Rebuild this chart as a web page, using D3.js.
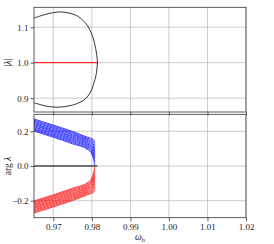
<!DOCTYPE html>
<meta charset="utf-8">
<style>
  body { margin: 0; background: #fff; }
  text { font-family: "Liberation Serif", "DejaVu Serif", serif; fill: #222; }
</style>
<svg width="274" height="244"></svg>
<script src="https://cdn.jsdelivr.net/npm/d3@7"></script>
<script>

// x ticks shared by both panels
var xTicks = [0.97, 0.98, 0.99, 1.00, 1.01, 1.02]
var magTicks = [0.9, 1.0, 1.1]
var argTicks = [-0.2, 0.0, 0.2]

// |lambda| : closed curve, upper branch then lower branch (omega, value)
var magCurve = [
  [0.965, 1.126], [0.968, 1.136], [0.970, 1.141], [0.972, 1.143], [0.974, 1.140],
  [0.976, 1.133], [0.977, 1.126], [0.978, 1.116], [0.979, 1.102], [0.980, 1.080],
  [0.9806, 1.060], [0.9810, 1.040], [0.9813, 1.020], [0.98145, 1.000],
  [0.9813, 0.980], [0.9810, 0.960], [0.9806, 0.945], [0.980, 0.925], [0.979, 0.906],
  [0.978, 0.895], [0.976, 0.884], [0.974, 0.878], [0.972, 0.875], [0.970, 0.875],
  [0.968, 0.878], [0.965, 0.887]
]
// real eigenvalue on the unit circle
var magUnit = [[0.965, 1.0], [0.98145, 1.0]]
var argZero = [[0.965, 0.0], [0.98145, 0.0]]

// omega samples of the arg branches
var argOmega = [0.965, 0.970, 0.975, 0.979, 0.9803, 0.9808]

var argBlue = [
  [0.271, 0.236, 0.199, 0.165, 0.154, 0.142],
  [0.265, 0.230, 0.193, 0.159, 0.146, 0.132],
  [0.258, 0.223, 0.186, 0.152, 0.137, 0.122],
  [0.252, 0.217, 0.180, 0.146, 0.129, 0.112],
  [0.245, 0.210, 0.173, 0.139, 0.120, 0.102],
  [0.239, 0.204, 0.167, 0.133, 0.112, 0.092],
  [0.233, 0.198, 0.160, 0.126, 0.103, 0.081],
  [0.226, 0.191, 0.154, 0.120, 0.094, 0.070],
  [0.220, 0.185, 0.147, 0.113, 0.085, 0.058],
  [0.213, 0.178, 0.141, 0.107, 0.075, 0.044],
  [0.207, 0.172, 0.134, 0.100, 0.064, 0.026],
  [0.201, 0.166, 0.128, 0.094, 0.052, 0.004]
]

var argRed = [
  [-0.271, -0.236, -0.199, -0.165, -0.154, -0.142],
  [-0.265, -0.230, -0.193, -0.159, -0.146, -0.132],
  [-0.258, -0.223, -0.186, -0.152, -0.137, -0.122],
  [-0.252, -0.217, -0.180, -0.146, -0.129, -0.112],
  [-0.245, -0.210, -0.173, -0.139, -0.120, -0.102],
  [-0.239, -0.204, -0.167, -0.133, -0.112, -0.092],
  [-0.233, -0.198, -0.160, -0.126, -0.103, -0.081],
  [-0.226, -0.191, -0.154, -0.120, -0.094, -0.070],
  [-0.220, -0.185, -0.147, -0.113, -0.085, -0.058],
  [-0.213, -0.178, -0.141, -0.107, -0.075, -0.044],
  [-0.207, -0.172, -0.134, -0.100, -0.064, -0.026],
  [-0.201, -0.166, -0.128, -0.094, -0.052, -0.004]
]

var svg = d3.select('svg')

var x = d3.scaleLinear().domain([0.965, 1.02]).range([34, 246])
var yMag = d3.scaleLinear().domain([0.861, 1.156]).range([112, 7.3])
var yArg = d3.scaleLinear().domain([-0.298, 0.298]).range([217.7, 114.3])

function fmt(v) { return d3.format('.1f')(v).replace('-', '\u2212') }

function panel(y, yTicks, showX) {
  var g = svg.append('g')
  var y0 = y.range()[0], y1 = y.range()[1]

  // grid
  g.selectAll('.gx').data(xTicks).enter().append('line')
    .attr('x1', x).attr('x2', x).attr('y1', y0).attr('y2', y1)
    .attr('stroke', '#b0b0b0').attr('stroke-width', 0.8).attr('opacity', 0.8)
  g.selectAll('.gy').data(yTicks).enter().append('line')
    .attr('x1', 34).attr('x2', 246).attr('y1', y).attr('y2', y)
    .attr('stroke', '#b0b0b0').attr('stroke-width', 0.8).attr('opacity', 0.8)

  var clip = 'clip' + Math.round(y0)
  g.append('clipPath').attr('id', clip).append('rect')
    .attr('x', 34).attr('y', y1).attr('width', 212).attr('height', y0 - y1)
  var plot = g.append('g').attr('clip-path', 'url(#' + clip + ')')

  var xAxis = d3.axisBottom(x).tickValues(xTicks).tickSize(3.5).tickPadding(2)
    .tickFormat(showX ? d3.format('.2f') : '')
  var ax = g.append('g').attr('transform', 'translate(0,' + y0 + ')').call(xAxis)
  var yAxis = d3.axisLeft(y).tickValues(yTicks).tickSize(3.5).tickPadding(2).tickFormat(fmt)
  var ay = g.append('g').attr('transform', 'translate(34,0)').call(yAxis)
  ;[ax, ay].forEach(function (a) {
    a.select('.domain').remove()
    a.selectAll('line').attr('stroke', '#333').attr('stroke-width', 0.8)
    a.selectAll('text').attr('font-size', 9).attr('fill', '#222')
      .attr('font-family', '"Liberation Serif", serif')
  })

  g.append('rect').attr('x', 34).attr('y', y1).attr('width', 212).attr('height', y0 - y1)
    .attr('fill', 'none').attr('stroke', '#333').attr('stroke-width', 0.8)
  return plot
}

var magPlot = panel(yMag, magTicks, false)
var argPlot = panel(yArg, argTicks, true)

var magLine = d3.line().x(function (d) { return x(d[0]) }).y(function (d) { return yMag(d[1]) })
  .curve(d3.curveCatmullRom)
magPlot.append('path').datum(magUnit).attr('d', magLine)
  .attr('fill', 'none').attr('stroke', '#ff0000').attr('stroke-width', 1)
magPlot.append('path').datum(magCurve).attr('d', magLine)
  .attr('fill', 'none').attr('stroke', '#000').attr('stroke-width', 0.8)

var argLine = d3.line().x(function (d, i) { return x(argOmega[i]) }).y(function (d) { return yArg(d) })
  .curve(d3.curveMonotoneX)
argPlot.selectAll('.blue').data(argBlue).enter().append('path')
  .attr('d', argLine).attr('fill', 'none').attr('stroke', '#0000ff').attr('stroke-width', 0.75)
argPlot.selectAll('.red').data(argRed).enter().append('path')
  .attr('d', argLine).attr('fill', 'none').attr('stroke', '#ff0000').attr('stroke-width', 0.75)
argPlot.append('path').datum(argZero)
  .attr('d', d3.line().x(function (d) { return x(d[0]) }).y(function (d) { return yArg(d[1]) }))
  .attr('fill', 'none').attr('stroke', '#000').attr('stroke-width', 1)

// axis labels
svg.append('text').attr('transform', 'translate(11,' + yMag(1.0) + ') rotate(-90)')
  .attr('text-anchor', 'middle').attr('font-size', 9.5)
  .html('|<tspan font-style="italic">λ</tspan>|')
svg.append('text').attr('transform', 'translate(11,' + yArg(0) + ') rotate(-90)')
  .attr('text-anchor', 'middle').attr('font-size', 9.5)
  .html('arg <tspan font-style="italic">λ</tspan>')
svg.append('text').attr('x', 140).attr('y', 240).attr('text-anchor', 'middle').attr('font-size', 9.5)
  .html('<tspan font-style="italic">ω</tspan><tspan font-size="6.5" dy="2">b</tspan>')

</script>
